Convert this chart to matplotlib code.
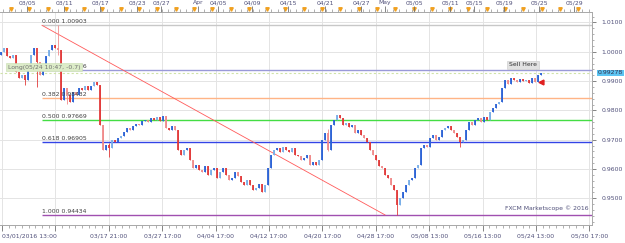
import numpy as np
import matplotlib
matplotlib.use("Agg")
import matplotlib.pyplot as plt
import matplotlib.transforms as mtransforms

# closing prices, one bar every 3 px (bar index i)
closes = [
    0.9999, 1.0013, 0.9986, 0.9979, 0.9989, 0.9931, 0.9911, 0.9921, 0.9904, 0.9938,
    0.9989, 1.0013, 0.9965, 0.9921, 0.9938, 0.9986, 1.0006, 1.0023, 1.0013, 1.0006,
    0.9836, 0.9877, 0.9853, 0.9829, 0.9863, 0.9853, 0.9877, 0.9870, 0.9883, 0.9870,
    0.9883, 0.9897, 0.9887, 0.9750, 0.9665, 0.9682, 0.9672, 0.9699, 0.9692, 0.9706,
    0.9713, 0.9726, 0.9740, 0.9733, 0.9747, 0.9754, 0.9750, 0.9764, 0.9767, 0.9760,
    0.9774, 0.9767, 0.9778, 0.9764, 0.9781, 0.9740, 0.9733, 0.9747, 0.9733, 0.9665,
    0.9648, 0.9665, 0.9672, 0.9631, 0.9603, 0.9614, 0.9597, 0.9590, 0.9610, 0.9580,
    0.9597, 0.9603, 0.9569, 0.9590, 0.9603, 0.9580, 0.9563, 0.9569, 0.9590, 0.9576,
    0.9556, 0.9545, 0.9563, 0.9545, 0.9528, 0.9535, 0.9549, 0.9522, 0.9545, 0.9603,
    0.9648, 0.9665, 0.9672, 0.9658, 0.9675, 0.9665, 0.9658, 0.9672, 0.9648, 0.9644,
    0.9631, 0.9638, 0.9648, 0.9614, 0.9624, 0.9614, 0.9631, 0.9699, 0.9723, 0.9665,
    0.9750, 0.9767, 0.9784, 0.9774, 0.9750, 0.9757, 0.9743, 0.9750, 0.9723, 0.9733,
    0.9716, 0.9706, 0.9692, 0.9665, 0.9648, 0.9631, 0.9610, 0.9603, 0.9580, 0.9569,
    0.9545, 0.9528, 0.9477, 0.9501, 0.9522, 0.9545, 0.9563, 0.9569, 0.9603, 0.9614,
    0.9672, 0.9682, 0.9675, 0.9706, 0.9716, 0.9699, 0.9709, 0.9733, 0.9740, 0.9747,
    0.9733, 0.9723, 0.9709, 0.9692, 0.9699, 0.9733, 0.9760, 0.9750, 0.9767, 0.9774,
    0.9760, 0.9778, 0.9767, 0.9795, 0.9808, 0.9822, 0.9829, 0.9877, 0.9904, 0.9890,
    0.9911, 0.9904, 0.9897, 0.9907, 0.9900, 0.9904, 0.9894, 0.9911, 0.9897, 0.9921,
    0.9928,
]
first_open = 0.9990
# bars with visible long wicks: index -> (high, low)
wicks = {8: (0.9910, 0.9885), 12: (0.9968, 0.9880), 19: (1.00903, 0.9990),
         22: (0.9860, 0.9822), 36: (0.9690, 0.9640), 109: (0.9735, 0.9662),
         132: (0.9525, 0.94434), 153: (0.9700, 0.9676)}

fib_ratios = ["0.000", "0.236", "0.382", "0.500", "0.618", "1.000"]
fib_prices = [1.00903, 0.99376, 0.98432, 0.97669, 0.96905, 0.94434]
fib_colors = ["#c8c8c8", "#9a9ad8", "#ffb486", "#44dd44", "#3344e6", "#a050b0"]
current_price = 0.99278

top_labels = ["03/05", "03/11", "03/17", "03/23", "03/27", "Apr", "04/05", "04/09", "04/15",
              "04/21", "04/27", "May", "05/05", "05/11", "05/15", "05/19", "05/25", "05/29"]
top_px = [27, 64, 100, 137, 161, 198, 218, 252, 288, 325, 361, 385, 414, 450, 474, 504, 539, 574]
bottom_labels = ["03/01/2016 13:00", "", "03/17 21:00", "03/27 17:00", "04/04 17:00", "04/12 17:00",
                 "04/20 17:00", "04/28 17:00", "05/08 13:00", "05/16 13:00", "05/24 13:00", "05/30 17:00"]
price_ticks = [0.95, 0.96, 0.97, 0.98, 0.99, 1.00, 1.01]


def px2i(px):
    return (px - 1) / 3.0


W, H = 625, 243
fig = plt.figure(figsize=(W / 100, H / 100), dpi=100)
fig.patch.set_facecolor("white")
ax = fig.add_axes([0, 1 - 225 / H, 592 / W, (225 - 12) / H])
ax.set_xlim(px2i(0), px2i(592))
ax.set_ylim(0.94089, 1.01358)

txt_col = "#50507a"
fs = 4.4

# grid
for k in range(12):
    ax.axvline(px2i(2 + 53.4 * k), color="#e4e4e4", lw=0.7, zorder=0)
for p in price_ticks:
    ax.axhline(p, color="#e4e4e4", lw=0.7, zorder=0)

# candles
opens = [first_open] + closes[:-1]
for i, (o, c) in enumerate(zip(opens, closes)):
    col = "#2b62d6" if c >= o else "#e23a3a"
    if i % 3 == 1:
        col = "#78aee8" if c >= o else "#f08a8a"
    hi, lo = wicks.get(i, (max(o, c), min(o, c)))
    ax.vlines(i, lo, hi, color=col, lw=0.6, zorder=3)
    b0, b1 = min(o, c), max(o, c)
    if b1 - b0 < 0.0003:
        b1 = b0 + 0.0003
    ax.vlines(i, b0, b1, color=col, lw=1.3, zorder=3)

# fibonacci levels
x0 = px2i(42)
for r, p, c in zip(fib_ratios, fib_prices, fib_colors):
    ax.hlines(p, x0, px2i(592), color=c, lw=1.0, zorder=2)
    ax.text(x0, p + 0.0004, f"{r} {p:.5f}", fontsize=fs, color="#404040", va="bottom", ha="left", zorder=4)

# trend line
ax.plot([x0, px2i(385)], [fib_prices[0], fib_prices[-1]], color="#ff5a5a", lw=0.6, zorder=2)

# current price line
ax.axhline(current_price, color="#cfe3a8", lw=0.8, ls=(0, (2, 2)), zorder=1)

# tooltip
ax.text(px2i(8), 0.9947, "Long(05/24 10:47, -0.7)", fontsize=fs, color="#707070", va="center", ha="left",
        zorder=6, bbox=dict(boxstyle="square,pad=0.25", fc="#dcecc8", ec="#c8dcb0", lw=0.4))

# sell here
ax.text(px2i(523), 0.9955, "Sell Here", fontsize=fs, color="#303030", va="center", ha="center", zorder=6,
        bbox=dict(boxstyle="square,pad=0.25", fc="#e2e2e2", ec="#c8c8c8", lw=0.4))
ax.plot(px2i(541), 0.9897, marker="<", ms=3.5, color="#e02020", zorder=6)

ax.text(px2i(589), 0.9457, "FXCM Marketscope \u00a9 2016", fontsize=fs, color=txt_col, ha="right", va="bottom", zorder=6)

# right axis
ax.yaxis.tick_right()
ax.set_yticks(price_ticks)
ax.set_yticklabels([f"{p:.4f}" for p in price_ticks])
ax.set_yticks(np.arange(0.942, 1.0135, 0.002), minor=True)
ax.tick_params(axis="y", which="major", length=3, width=0.6, color="#707070", labelsize=fs, labelcolor=txt_col, pad=4)
ax.tick_params(axis="y", which="minor", length=1.5, width=0.5, color="#909090")
ax.annotate(f"{current_price:.5f}", xy=(1.0, current_price), xycoords=("axes fraction", "data"),
            xytext=(4, 0), textcoords="offset points", fontsize=fs, color="#303050", va="center", ha="left",
            bbox=dict(boxstyle="square,pad=0.15", fc="#5cc4f2", ec="none"), annotation_clip=False)

# bottom axis
ax.set_xticks([px2i(2 + 53.4 * k) for k in range(12)])
ax.set_xticklabels(bottom_labels)
ax.set_xticks([px2i(2 + 53.4 / 8 * k) for k in range(89)], minor=True)
ax.tick_params(axis="x", which="major", length=4, width=0.6, color="#707070", labelsize=fs, labelcolor=txt_col, pad=2)
ax.tick_params(axis="x", which="minor", length=2, width=0.5, color="#909090")
ax.get_xticklabels()[0].set_horizontalalignment("left")

# top axis
top = ax.twiny()
top.set_xlim(ax.get_xlim())
top.set_xticks([px2i(p) for p in top_px])
top.set_xticklabels(top_labels)
top.set_xticks([px2i(3 + 6.1 * k) for k in range(97)], minor=True)
top.tick_params(axis="x", which="major", length=4, width=0.6, color="#707070", labelsize=fs, labelcolor=txt_col, pad=1)
top.tick_params(axis="x", which="minor", length=2.5, width=0.5, color="#909090")
trans = mtransforms.blended_transform_factory(ax.transData, ax.transAxes)
mk = [px2i(p) for p in np.arange(11, 592, 18.3)]
ax.plot(mk, [1.012] * len(mk), ls="none", marker="v", ms=2.5, color="#f0a020", transform=trans, clip_on=False, zorder=7)

for a in (ax, top):
    for s in a.spines.values():
        s.set_color("#a8a8a8")
        s.set_linewidth(0.6)
    a.spines["left"].set_visible(False)

fig.savefig("out.png", dpi=100)
